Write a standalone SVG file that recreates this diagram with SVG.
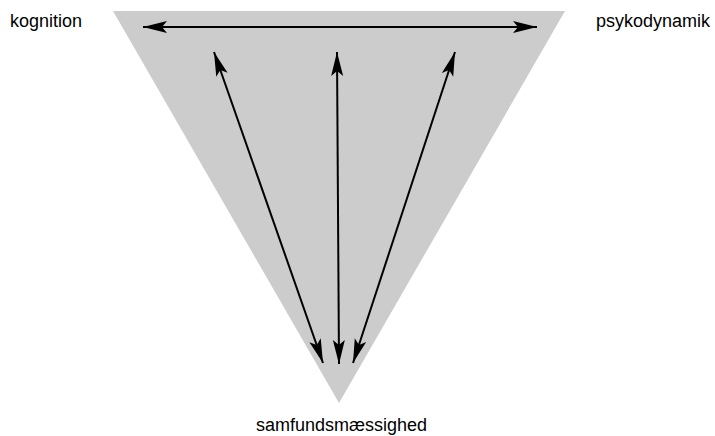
<svg xmlns="http://www.w3.org/2000/svg" width="715" height="436" viewBox="0 0 715 436">
<style>
text{font-family:"Liberation Sans",Arial,sans-serif;font-size:18px;fill:#000}
.c{stroke:#000;stroke-width:2;fill:none;marker-start:url(#a);marker-end:url(#a)}
</style>
<defs>
<marker id="a" viewBox="-25 -7 26 14" refX="0" refY="0" markerWidth="26" markerHeight="14" markerUnits="userSpaceOnUse" orient="auto-start-reverse">
<path d="M0,0 L-24,-6 L-19,0 L-24,6 Z" fill="#000"/>
</marker>
</defs>
<rect width="715" height="436" fill="#fff"/>
<g id="triangle"><polygon points="113,11 565,11 339,403" fill="#ccc"/></g>
<g id="kognition"><text x="10" y="27">kognition</text></g>
<g id="psykodynamik"><text x="596" y="27">psykodynamik</text></g>
<g id="samfundsmaessighed"><text x="341.5" y="431" text-anchor="middle">samfundsmæssighed</text></g>
<g id="connectors">
<line class="c" x1="143" y1="27" x2="537" y2="27"/>
<line class="c" x1="214" y1="52" x2="323" y2="363"/>
<line class="c" x1="337" y1="52" x2="339" y2="364"/>
<line class="c" x1="455" y1="52" x2="353" y2="363"/>
</g>
</svg>
